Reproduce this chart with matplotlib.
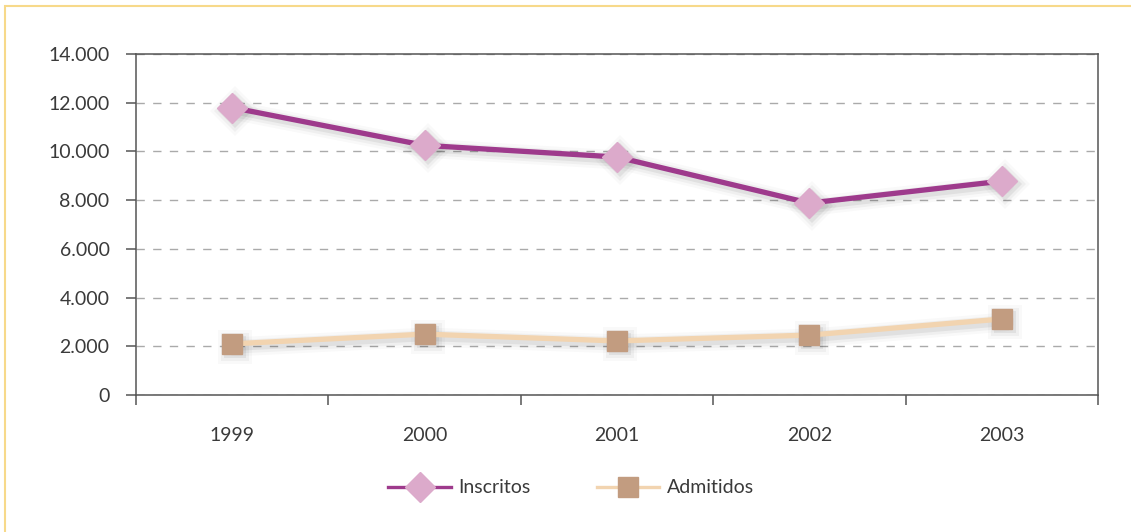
import numpy as np
import matplotlib
matplotlib.use('Agg')
import matplotlib.pyplot as plt
from matplotlib.transforms import offset_copy
from matplotlib.ticker import FuncFormatter, FixedLocator

years = ['1999', '2000', '2001', '2002', '2003']
inscritos = [11800, 10250, 9770, 7880, 8780]
admitidos = [2100, 2500, 2220, 2460, 3120]

plt.rcParams['font.family'] = ['Lato', 'DejaVu Sans']

fig = plt.figure(figsize=(11.31, 5.32), dpi=100)
ax = fig.add_axes([0.1202, 0.2575, 0.8506, 0.641])

# yellow frame around the chart
fig.add_artist(plt.Rectangle((5 / 1131, -0.1), 1.2, 1 - 6 / 532 + 0.1,
                             transform=fig.transFigure, fill=False,
                             edgecolor='#f7d98a', lw=1.5))

x = np.arange(len(years))

# soft drop shadow: a few blurred layers shifted down-right
sh = offset_copy(ax.transData, fig=fig, x=3, y=-3, units='dots')
for vals, mk, ms in [(inscritos, 'D', 15), (admitidos, 's', 14)]:
    for grow, a in [(10, 0.025), (6, 0.04), (2, 0.06)]:
        ax.plot(x, vals, transform=sh, color='k', alpha=a, lw=3.8 + grow,
                marker=mk, markersize=ms + grow, markeredgewidth=0,
                solid_capstyle='round', zorder=2)

ax.plot(x, inscritos, color='#9e3a8c', lw=3.8, marker='D', markersize=15,
        markerfacecolor='#dcaacb', markeredgecolor='#dcaacb',
        label='Inscritos', zorder=4)
ax.plot(x, admitidos, color='#f2d4b0', lw=3.8, marker='s', markersize=14,
        markerfacecolor='#c29c80', markeredgecolor='#c29c80',
        label='Admitidos', zorder=3)

ax.set_xlim(-0.5, len(years) - 0.5)
ax.set_ylim(0, 14000)
ax.set_yticks(np.arange(0, 14001, 2000))
ax.yaxis.set_major_formatter(FuncFormatter(lambda v, p: f'{int(v):,}'.replace(',', '.')))
ax.xaxis.set_major_locator(FixedLocator(np.arange(-0.5, len(years), 1.0)))
ax.set_xticklabels([])
ax.xaxis.set_minor_locator(FixedLocator(x))
ax.set_xticklabels(years, minor=True)

ax.tick_params(axis='x', which='major', direction='out', length=7, width=1.1, color='#555555')
ax.tick_params(axis='x', which='minor', length=0, pad=23, labelsize=14, labelcolor='#3a3a3a')
ax.tick_params(axis='y', direction='out', length=7, width=1.1, color='#555555',
               pad=12, labelsize=14, labelcolor='#3a3a3a')

for s in ax.spines.values():
    s.set_color('#555555')
    s.set_linewidth(1.1)

ax.grid(axis='y', color='#aaaaaa', lw=1, linestyle=(0, (6, 6)))
ax.set_axisbelow(True)

leg = fig.legend(loc='center', bbox_to_anchor=(0.505, 0.083), ncol=2, frameon=False,
                 fontsize=14, handlelength=3.2, columnspacing=3.4, handletextpad=0.4)
for t in leg.get_texts():
    t.set_color('#3a3a3a')
for ln in leg.get_lines():
    ln.set_linewidth(2.4)

fig.savefig('out.png', dpi=100)
